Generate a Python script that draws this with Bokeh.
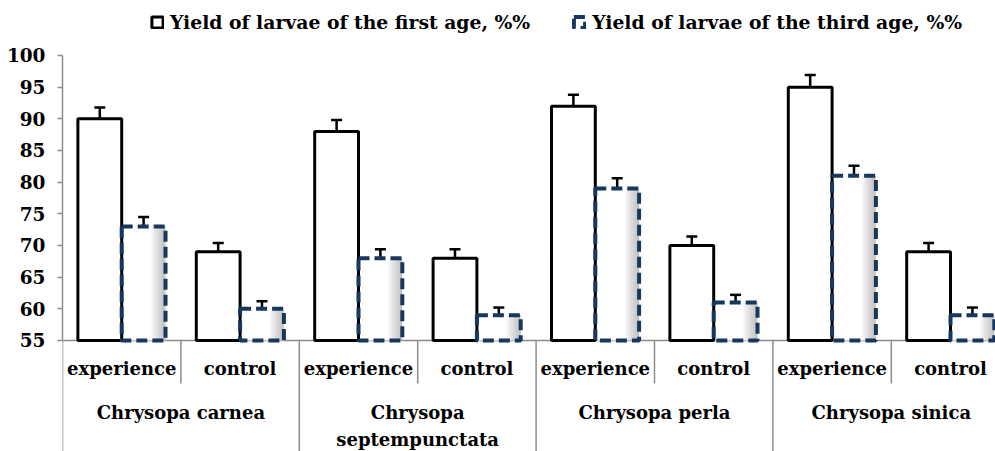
from bokeh.plotting import figure
from bokeh.models import Range1d, FixedTicker, ColumnDataSource, Whisker, TeeHead, Legend, LegendItem
from bokeh.core.properties import value
from bokeh.embed import file_html
from bokeh.resources import INLINE

# ---- data ----
species = ["Chrysopa carnea", "Chrysopa\nseptempunctata", "Chrysopa perla", "Chrysopa sinica"]
conditions = ["experience", "control"]
first_age = [90, 69, 88, 68, 92, 70, 95, 69]
third_age = [73, 60, 68, 59, 79, 61, 81, 59]
first_err = [1.8, 1.4, 1.8, 1.4, 1.8, 1.4, 1.9, 1.4]
third_err = [1.5, 1.2, 1.4, 1.2, 1.6, 1.2, 1.6, 1.2]
y_ticks = [55, 60, 65, 70, 75, 80, 85, 90, 95, 100]
series_names = ["Yield of larvae of the first age, %%", "Yield of larvae of the third age, %%"]

# ---- style ----
FONT_NAME = "DejaVu Serif"
FONT = value(FONT_NAME)
NAVY = "#17375E"
GREY = "#8C8C8C"
BW = 0.37
Y0 = y_ticks[0]

n = len(first_age)
centers = [i + 0.5 for i in range(n)]
x1 = [c - BW / 2 for c in centers]
x2 = [c + BW / 2 for c in centers]

p = figure(width=995, height=451, output_backend="svg", toolbar_location=None,
           x_range=Range1d(0, 933 / 118.4), y_range=Range1d(37.47, 108.68),
           min_border_left=62, min_border_right=0, min_border_top=0, min_border_bottom=0)
p.outline_line_color = None
p.xgrid.visible = False
p.ygrid.visible = False
p.xaxis.visible = False
p.background_fill_color = "white"

ya = p.yaxis[0]
ya.ticker = FixedTicker(ticks=y_ticks)
ya.bounds = (y_ticks[0], y_ticks[-1])
ya.axis_line_color = GREY
ya.axis_line_width = 1.5
ya.major_tick_line_color = GREY
ya.major_tick_line_width = 1.5
ya.major_tick_in = 0
ya.major_tick_out = 5
ya.minor_tick_line_color = None
ya.major_label_standoff = 12
ya.major_label_text_font = FONT_NAME
ya.major_label_text_font_style = "bold"
ya.major_label_text_font_size = "18.5px"
ya.major_label_text_color = "black"

# horizontal axis line & separators
p.segment(x0=[0], y0=[Y0], x1=[len(species) * 2], y1=[Y0], line_color=GREY, line_width=1.5)
sub_sep = [2 * i + 1 for i in range(len(species))]
grp_sep = [2 * i for i in range(len(species) + 1)]
p.segment(x0=sub_sep, y0=[Y0] * len(sub_sep), x1=sub_sep, y1=[48.21] * len(sub_sep),
          line_color=GREY, line_width=1.5)
p.segment(x0=grp_sep, y0=[Y0] * len(grp_sep), x1=grp_sep, y1=[30] * len(grp_sep),
          line_color=GREY, line_width=1.5)

# third-age bars fill + shading
r2_fill = p.vbar(x=x2, top=third_age, bottom=Y0, width=BW, fill_color="white", line_color=None)
for k in range(7):
    w = BW * 0.32 * (k + 1) / 7
    p.vbar(x=[c + BW / 2 - w / 2 for c in x2], top=third_age, bottom=Y0, width=w,
           fill_color="#7a7a7a", fill_alpha=0.075, line_color=None)

# first-age bars
r1 = p.vbar(x=x1, top=first_age, bottom=Y0, width=BW, fill_color="white",
            line_color="black", line_width=3)

# third-age outline
r2_line = p.vbar(x=x2, top=third_age, bottom=Y0, width=BW, fill_color=None,
                 line_color=NAVY, line_width=4, line_dash="11 5")

# error bars
xs = x1 + x2
vals = first_age + third_age
errs = first_err + third_err
src = ColumnDataSource(dict(base=xs, upper=[v + e for v, e in zip(vals, errs)],
                            lower=[v - e for v, e in zip(vals, errs)]))
p.add_layout(Whisker(source=src, base="base", upper="upper", lower="lower",
                     line_color="black", line_width=2.5,
                     upper_head=TeeHead(size=11, line_color="black", line_width=2.5),
                     lower_head=TeeHead(size=11, line_color="black", line_width=2.5)))

# category labels
p.text(x=centers, y=[50.58] * n, text=conditions * len(species),
       text_font=FONT, text_font_style="bold", text_font_size="18px",
       text_align="center", text_baseline="middle", text_color="black")
p.text(x=[2 * i + 1 for i in range(len(species))], y=[45.29] * len(species), text=species,
       text_font=FONT, text_font_style="bold", text_font_size="18px",
       text_align="center", text_baseline="top", text_color="black",
       text_line_height=1.3)

legend = Legend(items=[LegendItem(label=series_names[0], renderers=[r1]),
                       LegendItem(label=series_names[1], renderers=[r2_fill, r2_line])],
                orientation="horizontal", location=(88, 418),
                glyph_width=14, glyph_height=14, label_standoff=6, spacing=42,
                padding=0, margin=0, border_line_color=None, background_fill_alpha=0,
                label_text_font=FONT_NAME, label_text_font_style="bold",
                label_text_font_size="18.8px", label_text_color="black")
p.add_layout(legend, "center")

open("out.html", "w").write(file_html(p, INLINE))
